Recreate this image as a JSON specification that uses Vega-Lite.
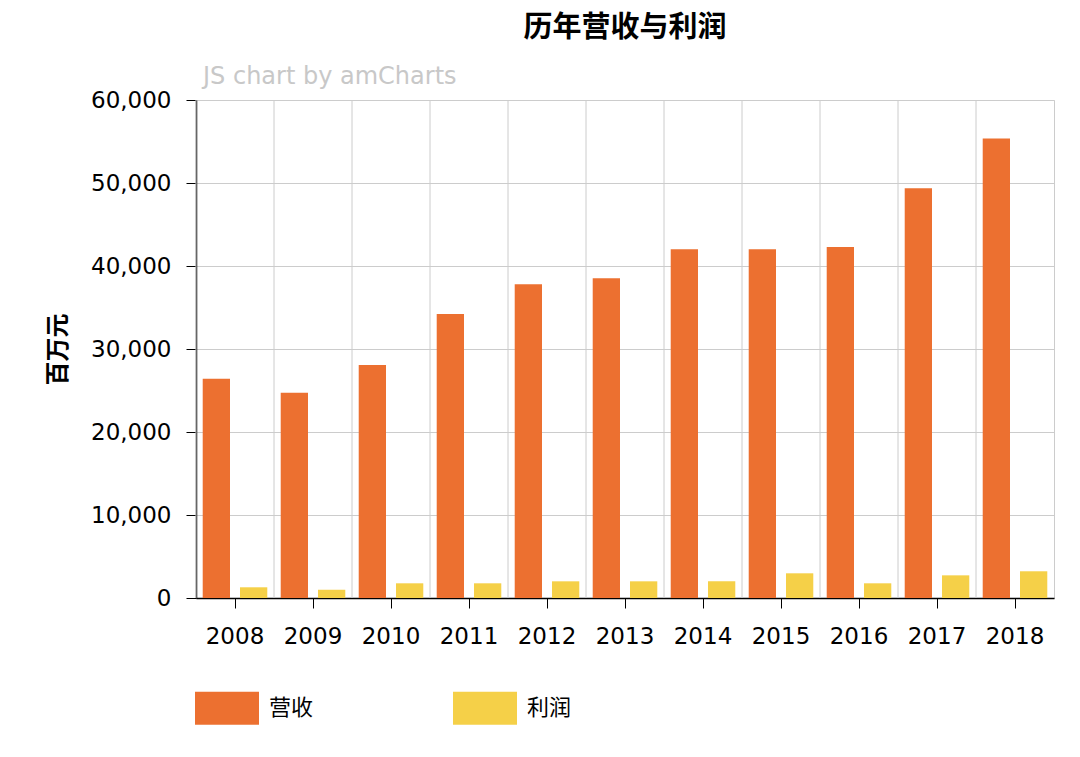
{
  "$schema": "https://vega.github.io/schema/vega-lite/v6.json",
  "width": 858,
  "height": 498,
  "autosize": "none",
  "padding": {"left": 196, "top": 100, "right": 26, "bottom": 159},
  "background": "white",
  "title": {
    "text": "历年营收与利润",
    "font": "Noto Sans CJK SC",
    "fontSize": 29,
    "fontWeight": "bold",
    "color": "#000000",
    "anchor": "middle",
    "offset": 22
  },
  "config": {
    "view": {"stroke": "#cccccc", "strokeWidth": 1},
    "axis": {"labelFont": "DejaVu Sans", "titleFont": "Noto Sans CJK SC"},
    "axisX": {
      "title": null,
      "labelAngle": 0,
      "labelAlign": "center",
      "bandPosition": 0.5,
      "labelFontSize": 23,
      "labelColor": "#000000",
      "labelPadding": 17,
      "tickSize": 10,
      "tickColor": "#000000",
      "domainColor": "#000000",
      "domainWidth": 1.5,
      "grid": false
    }
  },
  "data": {
    "values": [
      {"year": "2008", "营收": 26420, "利润": 1290},
      {"year": "2009", "营收": 24730, "利润": 1000},
      {"year": "2010", "营收": 28070, "利润": 1770},
      {"year": "2011", "营收": 34220, "利润": 1770},
      {"year": "2012", "营收": 37800, "利润": 2010},
      {"year": "2013", "营收": 38520, "利润": 2010},
      {"year": "2014", "营收": 42020, "利润": 2010},
      {"year": "2015", "营收": 42020, "利润": 2975},
      {"year": "2016", "营收": 42300, "利润": 1770},
      {"year": "2017", "营收": 49380, "利润": 2730},
      {"year": "2018", "营收": 55370, "利润": 3220}
    ]
  },
  "layer": [
    {
      "transform": [{"fold": ["营收", "利润"], "as": ["series", "value"]}],
      "mark": {"type": "bar"},
      "encoding": {
        "x": {
          "field": "year",
          "type": "ordinal",
          "title": null,
          "scale": {"paddingInner": 0, "paddingOuter": 0},
          "axis": {"bandPosition": 0.5, "labelAlign": "center"}
        },
        "xOffset": {
          "field": "series",
          "type": "nominal",
          "sort": ["营收", "利润"],
          "scale": {"paddingInner": 0.268, "paddingOuter": 0.18}
        },
        "y": {
          "field": "value",
          "type": "quantitative",
          "scale": {"domain": [0, 60000], "nice": false},
          "axis": {
            "title": "百万元",
            "titleFontSize": 24,
            "titleFontWeight": "bold",
            "titleColor": "#000000",
            "titlePadding": 20,
            "values": [0, 10000, 20000, 30000, 40000, 50000, 60000],
            "format": ",d",
            "labelFontSize": 23,
            "labelColor": "#000000",
            "labelPadding": 15,
            "tickSize": 10,
            "tickColor": "#000000",
            "domainColor": "#000000",
            "domainWidth": 1.5,
            "gridColor": "#cccccc",
            "gridWidth": 1
          }
        },
        "color": {
          "field": "series",
          "type": "nominal",
          "sort": ["营收", "利润"],
          "scale": {"domain": ["营收", "利润"], "range": ["#EC7030", "#F5D048"]},
          "legend": {
            "title": null,
            "orient": "none",
            "legendX": -1,
            "legendY": 576,
            "direction": "horizontal",
            "symbolType": "M-1,-0.516H1V0.516H-1Z",
            "symbolSize": 4096,
            "symbolStrokeWidth": 0,
            "symbolOpacity": 1,
            "labelFont": "Noto Sans CJK SC",
            "labelFontSize": 22,
            "labelColor": "#000000",
            "labelOffset": 10,
            "columnPadding": 139
          }
        }
      }
    },
    {
      "mark": {"type": "rule", "color": "#cccccc", "strokeWidth": 1},
      "encoding": {
        "x": {"field": "year", "type": "ordinal", "bandPosition": 0, "title": null, "axis": {"bandPosition": 0.5, "labelAlign": "center"}}
      }
    },
    {
      "data": {"values": [{"label": "JS chart by amCharts"}]},
      "mark": {
        "type": "text",
        "align": "left",
        "baseline": "alphabetic",
        "dx": 7,
        "dy": -16,
        "font": "DejaVu Sans",
        "fontSize": 24,
        "color": "#c8c8c8"
      },
      "encoding": {
        "x": {"datum": "2008", "type": "ordinal", "bandPosition": 0, "title": null, "axis": {"bandPosition": 0.5, "labelAlign": "center"}},
        "y": {"datum": 60000, "type": "quantitative"},
        "text": {"field": "label"}
      }
    }
  ]
}
